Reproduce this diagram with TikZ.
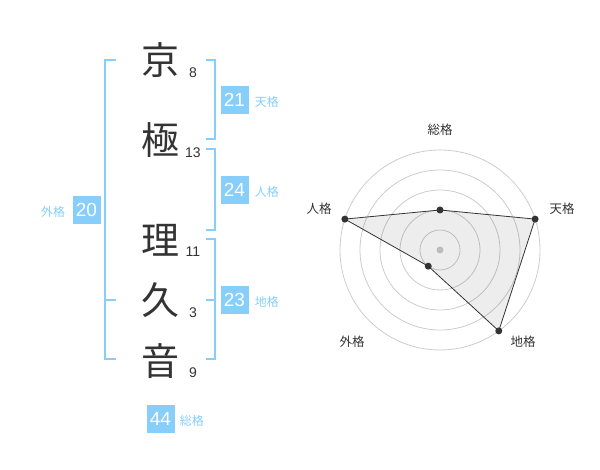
\documentclass[tikz,border=0pt]{standalone}
\usepackage{fontspec}
\setmainfont{Liberation Sans}
\newfontfamily\jpfont{Noto Sans CJK JP}
\usepackage{tikz}
\usetikzlibrary{positioning}
\definecolor{skyb}{HTML}{87CEFA}
\definecolor{ink}{HTML}{333333}
\definecolor{ring}{HTML}{CCCCCC}
\tikzset{
	kanji/.style={
		inner sep=0pt,
		text=ink,
		font={\jpfont\fontsize{38}{40}\selectfont}
	},
	strokes/.style={
		inner sep=0pt,
		text=ink,
		font={\fontsize{14}{16}\selectfont}
	},
	bracket/.style={
		draw=skyb,
		line width=2pt
	},
	valbox/.style={
		fill=skyb,
		text=white,
		inner sep=0pt,
		minimum size=28pt,
		font={\fontsize{19}{20}\selectfont}
	},
	kaku/.style={
		inner sep=0pt,
		text=skyb,
		font={\jpfont\fontsize{12}{14}\selectfont}
	}
}

\begin{document}
\begin{tikzpicture}[
	x=1pt, y=-1pt,
	grid/.style = {draw=ring, line width=0.8pt},
	axlabel/.style = {inner sep=0pt, text=ink, font={\jpfont\fontsize{12.5}{14}\selectfont}},
	pointdot/.style = {fill=ink, circle, minimum size=7pt, inner sep=0pt}
	]
	\useasboundingbox (0,0) rectangle (600,470);
	% name
	\node[kanji] (k1) at (160,60) {京};
	\node[kanji] (k2) at (160,140) {極};
	\node[kanji] (k3) at (160,240) {理};
	\node[kanji] (k4) at (160,300) {久};
	\node[kanji] (k5) at (160,361) {音};
	% stroke counts
	\node[strokes] (s1) at (193,73) {8};
	\node[strokes] (s2) at (193,153) {13};
	\node[strokes] (s3) at (193,252) {11};
	\node[strokes] (s4) at (193,313) {3};
	\node[strokes] (s5) at (193,373) {9};

	% brackets
	\draw[bracket] (116,60) -- (105,60) -- (105,359.5) -- (116,359.5);
	\draw[bracket] (105,300) -- (116,300);
	\draw[bracket] (206,60) -- (214.5,60) -- (214.5,139.5) -- (206,139.5);
	\draw[bracket] (206,149.5) -- (214.5,149.5) -- (214.5,230) -- (206,230);
	\draw[bracket] (206,239.5) -- (214.5,239.5) -- (214.5,359.5) -- (206,359.5);
	\draw[bracket] (206,300) -- (214.5,300);

	% values
	\node[valbox] (ten) at (234.5,100) {21};
	\node[kaku, base right=6pt of ten] (tenl) {天格};
	\node[valbox] (jin) at (234.5,190) {24};
	\node[kaku, base right=6pt of jin] (jinl) {人格};
	\node[valbox] (chi) at (234.5,300) {23};
	\node[kaku, base right=6pt of chi] (chil) {地格};
	\node[valbox] (gai) at (86.5,210) {20};
	\node[kaku, base left=7pt of gai] (gail) {外格};
	\node[valbox] (sou) at (160.5,419) {44};
	\node[kaku, base right=5pt of sou] (soul) {総格};

	% radar
	\coordinate (c) at (440,250);
	\foreach \r in {20,40,...,100}
		\draw[grid] (c) circle[radius=\r];
	\fill[ring] (c) circle[radius=3.5];
	\coordinate (p1) at ([shift={(-90:40)}]c);
	\coordinate (p2) at ([shift={(-18:100)}]c);
	\coordinate (p3) at ([shift={(54:100)}]c);
	\coordinate (p4) at ([shift={(126:20)}]c);
	\coordinate (p5) at ([shift={(198:100)}]c);
	\draw[ink, line width=0.8pt, fill=black, fill opacity=0.07] (p1) -- (p2) -- (p3) -- (p4) -- (p5) -- cycle;
	\foreach \p in {p1,p2,p3,p4,p5}
		\node[pointdot] at (\p) {};

	\node[axlabel] (ls) at (440,130) {総格};
	\node[axlabel] (lt) at (562,209) {天格};
	\node[axlabel] (lc) at (523,342) {地格};
	\node[axlabel] (lg) at (352,342) {外格};
	\node[axlabel] (lj) at (319,209) {人格};
\end{tikzpicture}
\end{document}
